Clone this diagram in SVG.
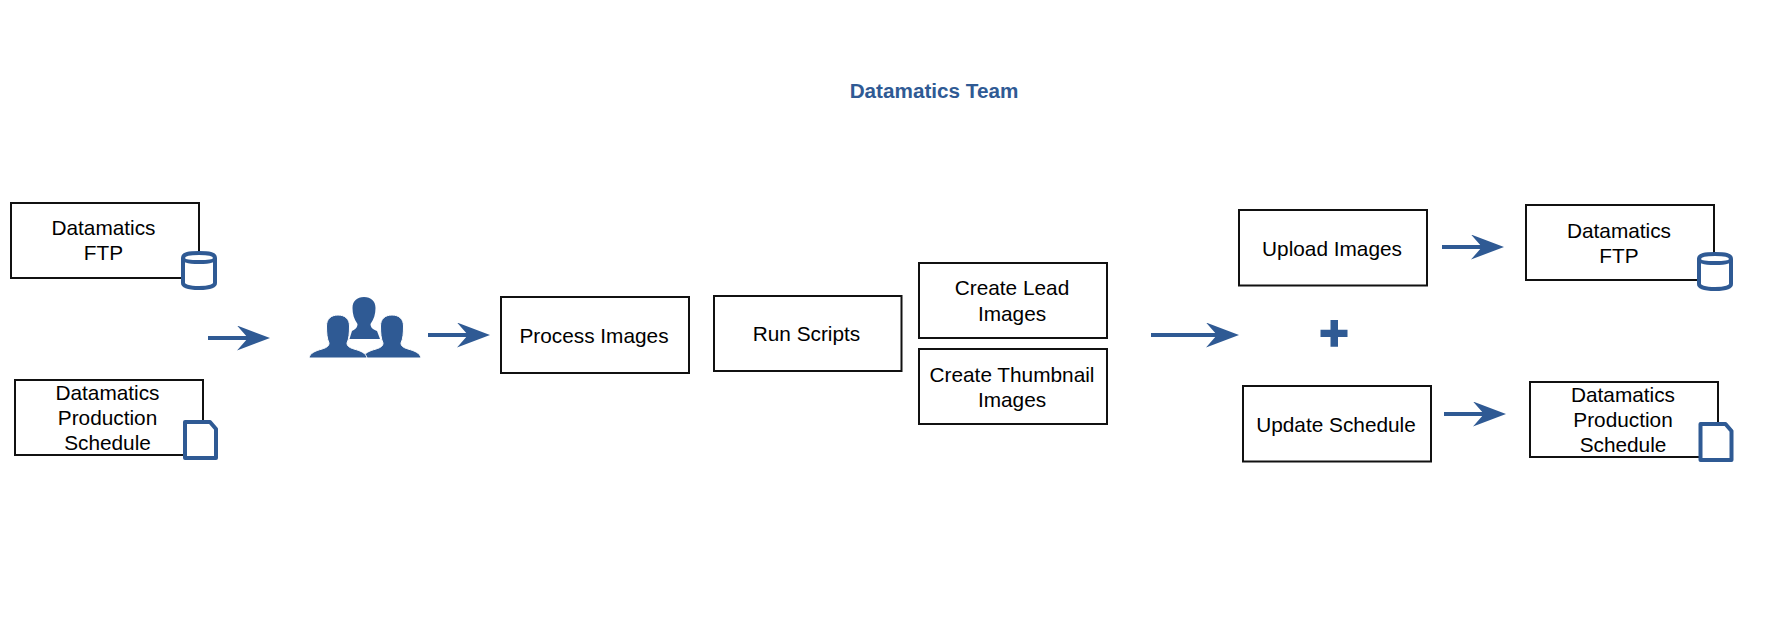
<svg xmlns="http://www.w3.org/2000/svg" width="1788" height="628" viewBox="0 0 1788 628">
<style>
text{font-family:"Liberation Sans",Arial,sans-serif;font-size:20.8px;fill:#000;text-anchor:middle}
.title{font-weight:700;font-size:20.7px;fill:#2f5a94}
.box{fill:#fff;stroke:#111;stroke-width:2}
.icon{fill:#fff;stroke:#2f5a94;stroke-width:4;stroke-linejoin:round}
.arrow{fill:none;stroke:#2f5a94;stroke-width:3.8;marker-end:url(#head)}
.person{fill:#2f5a94;stroke:#fff;stroke-width:1}
</style>
<defs>
<marker id="head" markerUnits="userSpaceOnUse" viewBox="0 0 33 25" markerWidth="33" markerHeight="25" refX="12" refY="12.5" orient="auto"><path d="M0 0L33 12.5L0 25L11 12.5Z" fill="#2f5a94"/></marker>
<path id="person" d="M0 43C1 38 6 36 13 34C18 32.500 20 31 20 28C18 24 17.500 18 17.500 11C17.500 4 22 0 29 0C36 0 40.500 4 40.500 11C40.500 18 40 24 38 28C38 31 40 32.500 45 34C52 36 57 38 58 43Z"/>
<g id="cyl"><path class="icon" d="M2 7C2 3 8 2 18 2C28 2 34 3 34 7V32C34 35 28 37 18 37C8 37 2 35 2 32Z"/><path class="icon" d="M2 7C2 10 8 11 18 11C28 11 34 10 34 7" fill="none"/></g>
<path id="doc" class="icon" d="M2 2H27L33 9V38H2Z"/>
</defs>
<rect width="1788" height="628" fill="#fff"/>
<text class="title" x="934" y="98">Datamatics Team</text>
<g id="connectors">
<line class="arrow" x1="208" y1="338" x2="249" y2="338"/>
<line class="arrow" x1="428" y1="335" x2="469" y2="335"/>
<line class="arrow" x1="1151" y1="335" x2="1218" y2="335"/>
<line class="arrow" x1="1442" y1="247" x2="1483" y2="247"/>
<line class="arrow" x1="1444" y1="414" x2="1485" y2="414"/>
</g>
<g id="ftp-in"><rect class="box" x="11" y="203" width="188" height="75"/><text x="103.500" y="235">Datamatics</text><text x="103.500" y="260">FTP</text><use href="#cyl" x="181" y="251"/></g>
<g id="schedule-in"><rect class="box" x="15" y="380" width="188" height="75"/><text x="107.500" y="399.500">Datamatics</text><text x="107.500" y="424.500">Production</text><text x="107.500" y="449.500">Schedule</text><use href="#doc" x="183" y="420"/></g>
<g id="team">
<path fill="#2f5a94" d="M349.500 339L352 331C356 329 357.500 327 357.500 324C354 319 352.500 314 352.500 308C352.500 301 357 297 364 297C371 297 375.500 301 375.500 308C375.500 314 374 319 370.500 324C370.500 327 372 329 377 331L380 339Z"/>
<use class="person" href="#person" x="363" y="315"/>
<use class="person" href="#person" x="309" y="315"/>
</g>
<g id="process"><rect class="box" x="501" y="297" width="188" height="76"/><text x="594" y="342.500">Process Images</text></g>
<g id="scripts"><rect class="box" x="714" y="296" width="187.500" height="75"/><text x="806.500" y="341">Run Scripts</text></g>
<g id="lead"><rect class="box" x="919" y="263" width="188" height="75"/><text x="1012" y="295">Create Lead</text><text x="1012" y="320.500">Images</text></g>
<g id="thumb"><rect class="box" x="919" y="349" width="188" height="75"/><text x="1012" y="381.500">Create Thumbnail</text><text x="1012" y="406.500">Images</text></g>
<g id="plus"><path fill="#2f5a94" d="M1330.500 320H1338V329.800H1347.500V337H1338V346.700H1330.500V337H1320.500V329.800H1330.500Z"/></g>
<g id="upload"><rect class="box" x="1239" y="210" width="188" height="75.500"/><text x="1332" y="255.500">Upload Images</text></g>
<g id="update"><rect class="box" x="1243" y="386" width="188" height="75.500"/><text x="1336" y="431.500">Update Schedule</text></g>
<g id="ftp-out"><rect class="box" x="1526" y="205" width="188" height="75"/><text x="1619" y="238">Datamatics</text><text x="1619" y="262.500">FTP</text><use href="#cyl" x="1697" y="252"/></g>
<g id="schedule-out"><rect class="box" x="1530" y="382" width="188" height="75"/><text x="1623" y="401.500">Datamatics</text><text x="1623" y="427">Production</text><text x="1623" y="451.500">Schedule</text><use href="#doc" x="1698.500" y="422"/></g>
</svg>
